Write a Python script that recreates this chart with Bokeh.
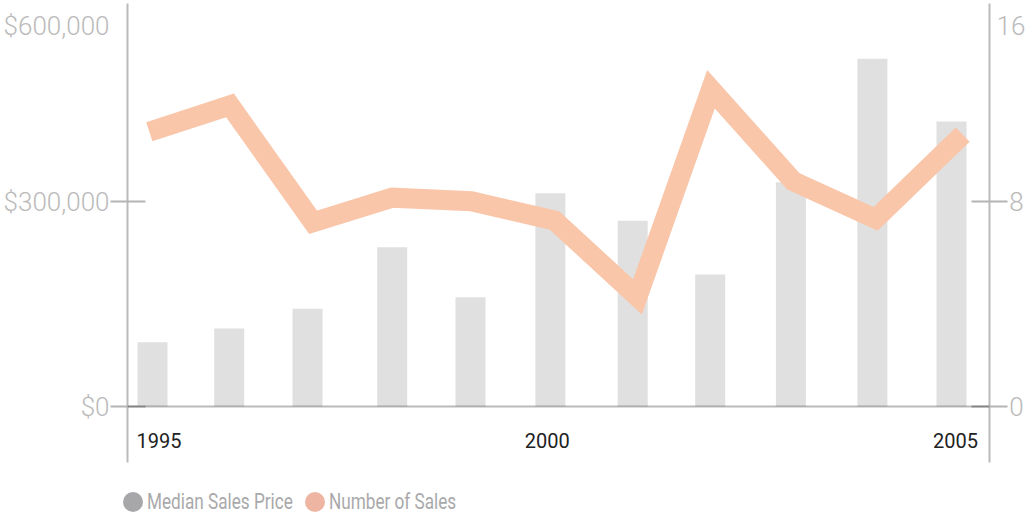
from bokeh.plotting import figure
from bokeh.models import Range1d, LinearAxis, FixedTicker, Span, Div
from bokeh.layouts import column
from bokeh.embed import file_html
from bokeh.resources import INLINE

# ---- data ----
bar_years = [1995.0, 1995.96, 1996.94, 1998.0, 1998.98, 1999.98, 2001.01, 2001.98, 2002.99, 2004.01, 2005.0]
median_price = [94000, 114000, 143000, 233000, 160000, 312000, 272000, 193000, 328000, 509000, 417000]

line_years = [1994.96, 1995.97, 1997.01, 1998.0, 1998.99, 2000.03, 2001.07, 2001.99, 2003.02, 2004.05, 2005.14]
num_sales = [10.72, 11.75, 7.19, 8.15, 8.01, 7.26, 4.28, 12.38, 8.79, 7.32, 10.61]

x_tick_pos = [1995.08, 1999.94, 2005.05]
x_tick_labels = ["1995", "2000", "2005"]

price_ticks = [0, 300000, 556800]
price_labels = ["$0", "$300,000", "$600,000"]
price_cross_ticks = [0, 300000]

sales_ticks = [0, 8, 14.83]
sales_labels = ["\u00a0\u00a00", "\u00a0\u00a08", "16"]
sales_cross_ticks = [0, 8]

series_names = ["Median Sales Price", "Number of Sales"]

# ---- styling ----
BAR_COLOR = "#e0e0e0"
LINE_COLOR = "#f9c6aa"
AXIS_COLOR = "#bbbbbb"
TICK_COLOR = "#b4b4b4"
LABEL_COLOR = "#bababa"

p = figure(width=1029, height=470,
           x_range=Range1d(1994.6871, 2005.4756),
           y_range=Range1d(-81951, 589756),
           x_axis_location=None, y_axis_location=None,
           output_backend="svg", toolbar_location=None,
           min_border_left=127, min_border_right=40,
           min_border_top=3, min_border_bottom=8,
           outline_line_color=None, background_fill_color="white")
p.xgrid.visible = False
p.ygrid.visible = False
p.extra_y_ranges = {"sales": Range1d(-2.185, 15.727)}

p.vbar(x=bar_years, top=median_price, bottom=0, width=0.3755,
       fill_color=BAR_COLOR, line_color=None)

p.line(x=line_years, y=num_sales, y_range_name="sales",
       line_color=LINE_COLOR, line_width=20, line_join="miter", line_cap="butt")

p.add_layout(Span(location=0, dimension="width", line_color="black",
                  line_alpha=0.27, line_width=2))

yl = LinearAxis(ticker=FixedTicker(ticks=price_ticks, minor_ticks=price_cross_ticks),
                major_label_overrides=dict(zip(price_ticks, price_labels)),
                axis_line_color=AXIS_COLOR, axis_line_width=2,
                major_tick_line_color=None, major_tick_in=0, major_tick_out=0,
                minor_tick_line_color=TICK_COLOR, minor_tick_line_width=2,
                minor_tick_in=18, minor_tick_out=17,
                major_label_standoff=1,
                major_label_text_font="Roboto Light, Roboto",
                major_label_text_font_size="26px",
                major_label_text_color=LABEL_COLOR)
p.add_layout(yl, "left")

yr = LinearAxis(y_range_name="sales",
                ticker=FixedTicker(ticks=sales_ticks, minor_ticks=sales_cross_ticks),
                major_label_overrides=dict(zip(sales_ticks, sales_labels)),
                axis_line_color=AXIS_COLOR, axis_line_width=2,
                major_tick_line_color=None, major_tick_in=0, major_tick_out=0,
                minor_tick_line_color=TICK_COLOR, minor_tick_line_width=2,
                minor_tick_in=18, minor_tick_out=18,
                major_label_standoff=-11,
                major_label_text_font="Roboto Light, Roboto",
                major_label_text_font_size="26px",
                major_label_text_color=LABEL_COLOR)
p.add_layout(yr, "right")

xa = LinearAxis(ticker=FixedTicker(ticks=x_tick_pos, minor_ticks=[]),
                major_label_overrides=dict(zip(x_tick_pos, x_tick_labels)),
                axis_line_color=None, major_tick_line_color=None,
                minor_tick_line_color=None, major_tick_in=0, major_tick_out=0,
                major_label_standoff=-30,
                major_label_text_font="Roboto",
                major_label_text_font_size="20px",
                major_label_text_color="#222222")
p.add_layout(xa, "below")

dot = ("position:absolute;top:22px;left:{l}px;width:20px;height:20px;"
       "border-radius:10px;background:{c}")
txt = ("position:absolute;top:20px;left:{l}px;height:24px;line-height:24px;"
       "white-space:nowrap;transform:scaleX(0.78);transform-origin:0 50%")
legend_html = (
    "<div style=\"position:relative;width:1029px;height:46px;"
    "font-family:Roboto,sans-serif;font-size:22px;color:#a9a9ab\">"
    f"<span style=\"{dot.format(l=123, c='#a7a7aa')}\"></span>"
    f"<span style=\"{txt.format(l=147)}\">{series_names[0]}</span>"
    f"<span style=\"{dot.format(l=305, c='#eeb6a2')}\"></span>"
    f"<span style=\"{txt.format(l=329)}\">{series_names[1]}</span>"
    "</div>"
)
legend = Div(text=legend_html, width=1029, height=46, margin=0)

root = column(p, legend, spacing=0)

open("out.html", "w").write(file_html(root, INLINE))
